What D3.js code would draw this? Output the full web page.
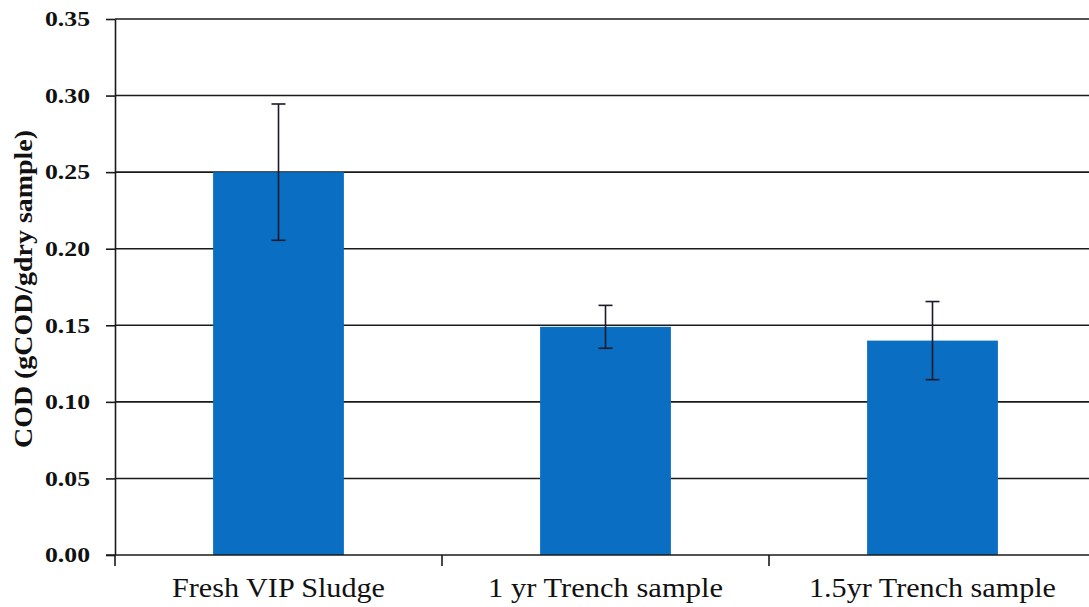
<!DOCTYPE html>
<html><head><meta charset="utf-8">
<script src="https://cdn.jsdelivr.net/npm/d3@7"></script>
<style>body{margin:0;background:#fff}svg{display:block}</style>
</head><body>
<svg id="chart" width="1089" height="607"></svg>
<script>
const categories = ["Fresh VIP Sludge", "1 yr Trench sample", "1.5yr Trench sample"];
const values = [0.250, 0.149, 0.140];
const errors = [0.0445, 0.014, 0.0255];
const yTicks = [0, 0.05, 0.10, 0.15, 0.20, 0.25, 0.30, 0.35];
const yTitle = "COD (gCOD/gdry sample)";

(function () {
const svg = d3.select("#chart");
const mLeft = 115, mRight = 1096, mTop = 19, mBottom = 555;
const y = d3.scaleLinear().domain([0, 0.35]).range([mBottom, mTop]);
const x = d3.scaleBand().domain(categories).range([mLeft, mRight]).paddingInner(0.6).paddingOuter(0.3);
const step = x.step();

// gridlines
svg.append("g").selectAll("line").data(yTicks.filter(d => d > 0)).join("line")
  .attr("x1", mLeft).attr("x2", 1089).attr("y1", d => y(d)).attr("y2", d => y(d))
  .attr("stroke", "#1a1a1a").attr("stroke-width", 1.6);

// bars
svg.append("g").selectAll("rect").data(values).join("rect")
  .attr("x", (d, i) => x(categories[i])).attr("width", x.bandwidth())
  .attr("y", d => y(d)).attr("height", d => mBottom - y(d))
  .attr("fill", "#0a6ec2");

// error bars
const eb = svg.append("g").attr("stroke", "#1a1a2a").attr("stroke-width", 1.6);
values.forEach((v, i) => {
  const cx = x(categories[i]) + x.bandwidth() / 2;
  eb.append("line").attr("x1", cx).attr("x2", cx).attr("y1", y(v + errors[i])).attr("y2", y(v - errors[i]));
  [v + errors[i], v - errors[i]].forEach(e => {
    eb.append("line").attr("x1", cx - 7).attr("x2", cx + 7).attr("y1", y(e)).attr("y2", y(e));
  });
});

// y axis
const yAxis = d3.axisLeft(y).tickValues(yTicks).tickFormat(d3.format(".2f")).tickSizeInner(9).tickSizeOuter(0).tickPadding(16);
const gy = svg.append("g").attr("transform", `translate(${mLeft},0)`).call(yAxis);
gy.select(".domain").attr("stroke", "#1a1a1a").attr("stroke-width", 1.6);
gy.selectAll(".tick line").attr("stroke", "#1a1a1a").attr("stroke-width", 1.6);
gy.selectAll(".tick text")
  .attr("font-family", "Liberation Serif, Times New Roman, serif")
  .attr("font-weight", "bold").attr("font-size", 21).attr("fill", "#111")
  .attr("textLength", 45).attr("lengthAdjust", "spacingAndGlyphs");

// x axis line
svg.append("line").attr("x1", mLeft - 9).attr("x2", 1089).attr("y1", mBottom).attr("y2", mBottom)
  .attr("stroke", "#1a1a1a").attr("stroke-width", 1.6);
// category boundary ticks
svg.append("g").selectAll("line").data(d3.range(categories.length + 1)).join("line")
  .attr("x1", i => mLeft + i * step).attr("x2", i => mLeft + i * step)
  .attr("y1", mBottom).attr("y2", mBottom + 11)
  .attr("stroke", "#1a1a1a").attr("stroke-width", 1.6);

// category labels
const labelWidths = [213, 235, 247];
svg.append("g").selectAll("text").data(categories).join("text")
  .attr("x", d => x(d) + x.bandwidth() / 2).attr("y", 597)
  .attr("text-anchor", "middle")
  .attr("font-family", "Liberation Serif, Times New Roman, serif")
  .attr("font-size", 27).attr("fill", "#111")
  .attr("textLength", (d, i) => labelWidths[i]).attr("lengthAdjust", "spacingAndGlyphs")
  .text(d => d);

// y title
svg.append("text")
  .attr("transform", "translate(32,289) rotate(-90)")
  .attr("text-anchor", "middle")
  .attr("font-family", "Liberation Serif, Times New Roman, serif")
  .attr("font-weight", "bold").attr("font-size", 26).attr("fill", "#111")
  .attr("textLength", 318).attr("lengthAdjust", "spacingAndGlyphs")
  .text(yTitle);
})();
</script>
</body></html>
